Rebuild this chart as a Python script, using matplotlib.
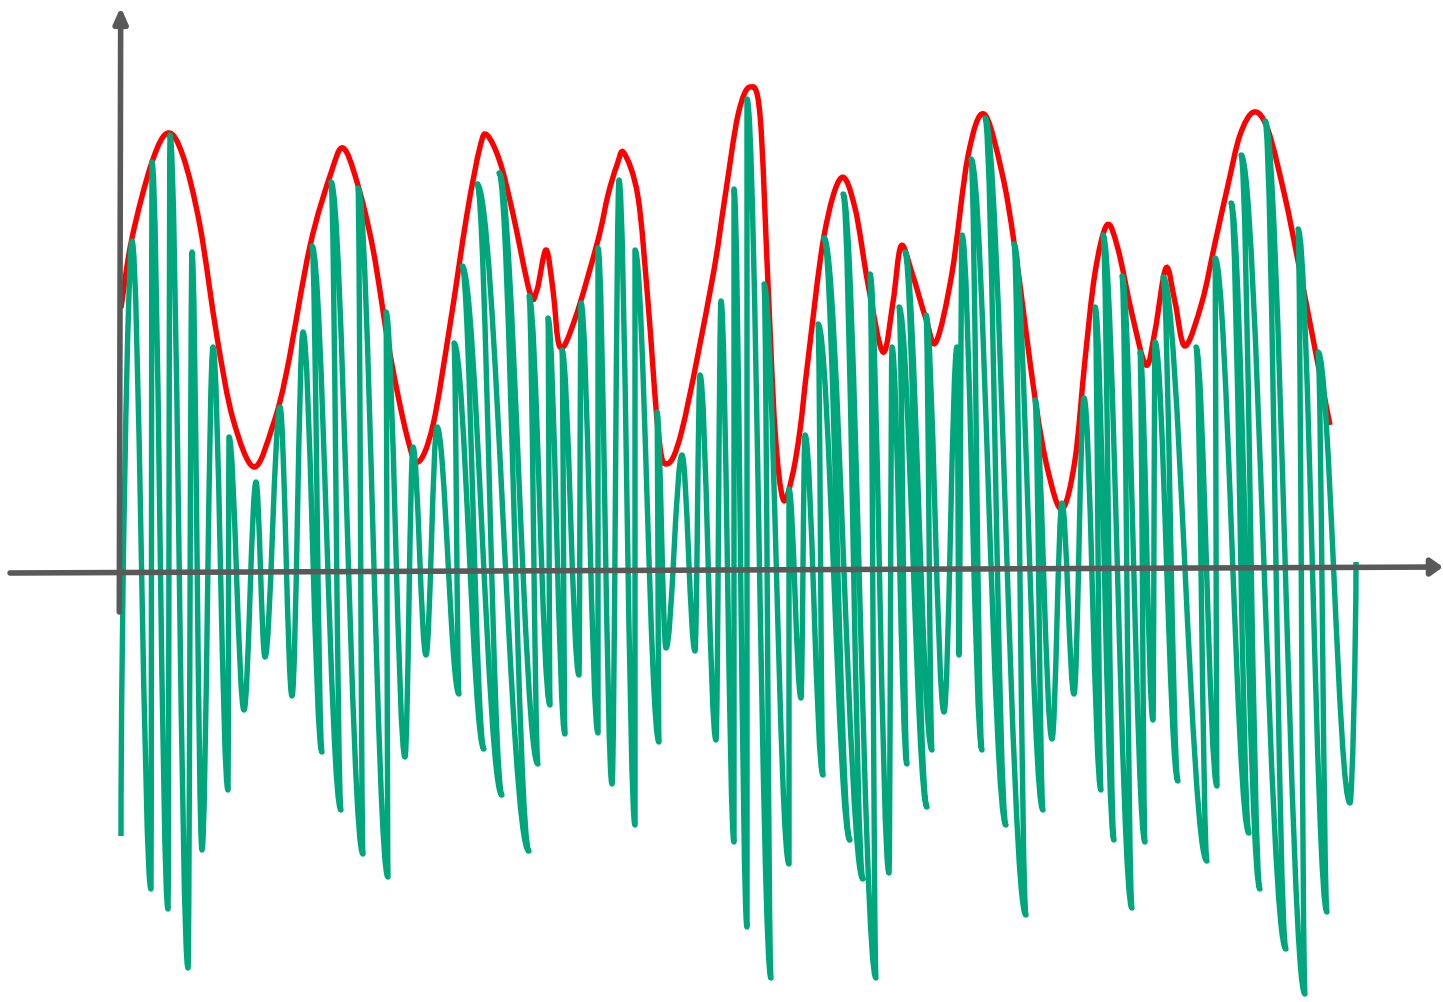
import matplotlib
matplotlib.use("Agg")
import matplotlib.pyplot as plt
from matplotlib.path import Path
from matplotlib.patches import PathPatch

# ── data (t = sample position, a = amplitude) ───────────────────────────────
# carrier signal: upper turning points, in path order
top_t = [12, 32, 50, 72, 93, 109, 136, 160, 183, 192, 211, 238, 266, 293, 317,
         334, 342, 357, 379, 409, 428, 442, 461, 478, 499, 515, 537, 562, 580,
         601, 614, 627, 644, 669, 685, 698, 704, 723, 750, 772, 779, 785, 806,
         837, 842, 851, 865, 894, 915, 942, 964, 975, 983, 1002, 1020, 1035,
         1043, 1076, 1095, 1111, 1121, 1145, 1178, 1198]
top_a = [329, 408, 435, 318, 223, 133, 88, 163, 238, 324, 388, 382, 258, 123,
         143, 227, 304, 386, 397, 274, 252, 220, 267, 322, 390, 320, 158, 115,
         195, 269, 381, 471, 286, 81, 135, 246, 332, 376, 296, 223, 263, 318,
         255, 223, 335, 411, 452, 326, 170, 67, 172, 263, 335, 294, 218, 228,
         293, 223, 312, 367, 415, 449, 341, 218]
# lower turning points (first one is the start of the trace)
bot_t = [1, 31, 48, 68, 82, 108, 124, 145, 172, 202, 221, 243, 268, 285, 306,
         339, 364, 382, 409, 418, 430, 445, 459, 478, 492, 515, 539, 546, 575,
         596, 614, 627, 651, 669, 681, 703, 730, 743, 756, 769, 787, 807, 812,
         824, 839, 862, 886, 906, 923, 932, 954, 981, 994, 1012, 1025, 1033,
         1058, 1087, 1097, 1129, 1140, 1166, 1185, 1207, 1230]
bot_a = [-266, -319, -339, -398, -280, -220, -140, -87, -126, -182, -240, -284,
         -307, -187, -85, -124, -179, -225, -281, -194, -135, -164, -105, -163,
         -214, -255, -172, -78, -81, -170, -272, -357, -408, -294, -128, -205,
         -270, -309, -408, -303, -194, -237, -180, -142, -85, -180, -255, -345,
         -240, -169, -124, -220, -270, -338, -272, -150, -211, -291, -216, -263,
         -319, -379, -424, -342, -233]
end_t, end_a = 1236, 8

# envelope
env_t = [1, 12, 32, 48, 63, 80, 97, 113, 134, 153, 167, 190, 211, 223, 237,
         253, 270, 287, 298, 313, 330, 347, 360, 367, 380, 393, 410, 417, 426,
         433, 440, 455, 478, 488, 497, 504, 518, 528, 538, 546, 562, 592, 605,
         618, 630, 640, 648, 655, 663, 672, 680, 688, 704, 721, 735, 748, 763,
         773, 781, 792, 806, 816, 832, 848, 864, 882, 895, 915, 928, 942, 955,
         965, 975, 987, 998, 1012, 1026, 1035, 1046, 1055, 1065, 1082, 1095,
         1108, 1120, 1134, 1148, 1165, 1178, 1195, 1210]
env_a = [262, 332, 408, 437, 414, 344, 233, 151, 103, 145, 200, 324, 397, 422,
         388, 321, 216, 134, 108, 145, 245, 356, 423, 435, 408, 356, 277, 280,
         320, 280, 223, 251, 330, 375, 405, 417, 373, 268, 140, 106, 140, 289,
         373, 455, 483, 455, 286, 140, 71, 93, 140, 210, 334, 392, 362, 286,
         218, 268, 324, 297, 251, 228, 297, 414, 456, 397, 321, 172, 99, 61,
         110, 210, 297, 345, 321, 256, 205, 239, 302, 268, 224, 268, 327, 385,
         435, 458, 440, 373, 309, 221, 145]

GREEN = "#00A67C"
RED = "#FF0000"
AXIS = "#595959"

fig = plt.figure(figsize=(14.43, 10.02), dpi=100)
ax = fig.add_axes([0, 0, 1, 1])
ax.set_xlim(-120, 1323)
ax.set_ylim(-432, 570)
ax.axis("off")

# ── carrier trace: bottom, top, bottom, ... , end ─────────────────────────
pts = []
for i in range(len(top_t)):
    pts.append((bot_t[i], bot_a[i]))
    pts.append((top_t[i], top_a[i]))
pts.append((bot_t[-1], bot_a[-1]))
pts.append((end_t, end_a))

k = 0.36
verts = [pts[0]]
codes = [Path.MOVETO]
for i in range(1, len(pts)):
    (x0, y0), (x1, y1) = pts[i - 1], pts[i]
    dx, dy = x1 - x0, y1 - y0
    c1 = (x0 + k * dx, y0)
    c2 = (x1 - k * dx, y1)
    if i == 1:                      # trace starts mid-stroke
        c1 = (x0, y0 + 0.35 * dy)
    if i == len(pts) - 1:           # and ends mid-stroke
        c2 = (x1, y1 - 0.35 * dy)
    verts += [c1, c2, (x1, y1)]
    codes += [Path.CURVE4] * 3
ax.add_patch(PathPatch(Path(verts, codes), fill=False, edgecolor=GREEN,
                       lw=3.9, joinstyle="round", capstyle="butt", zorder=3))

# ── envelope (smooth through read points) ─────────────────────────────────
ep = list(zip(env_t, env_a))
ev = [ep[0]]
ec = [Path.MOVETO]
for i in range(len(ep) - 1):
    p0 = ep[max(i - 1, 0)]
    p1, p2 = ep[i], ep[i + 1]
    p3 = ep[min(i + 2, len(ep) - 1)]
    c1 = (p1[0] + (p2[0] - p0[0]) / 6, p1[1] + (p2[1] - p0[1]) / 6)
    c2 = (p2[0] - (p3[0] - p1[0]) / 6, p2[1] - (p3[1] - p1[1]) / 6)
    ev += [c1, c2, p2]
    ec += [Path.CURVE4] * 3
ax.add_patch(PathPatch(Path(ev, ec), fill=False, edgecolor=RED, lw=3.9,
                       capstyle="butt", zorder=2))

# ── hand-drawn looking axes with arrow heads ──────────────────────────────
ax.annotate("", xy=(1323, 3), xytext=(-110, -3),
            arrowprops=dict(arrowstyle="-|>,head_length=0.35,head_width=0.25",
                            mutation_scale=20, lw=4, color=AXIS,
                            shrinkA=0, shrinkB=0), zorder=4)
ax.annotate("", xy=(0.7, 563), xytext=(-0.7, -42),
            arrowprops=dict(arrowstyle="-|>,head_length=0.45,head_width=0.2",
                            mutation_scale=20, lw=4, color=AXIS,
                            shrinkA=0, shrinkB=0), zorder=4)

fig.savefig("out.png", dpi=100)
